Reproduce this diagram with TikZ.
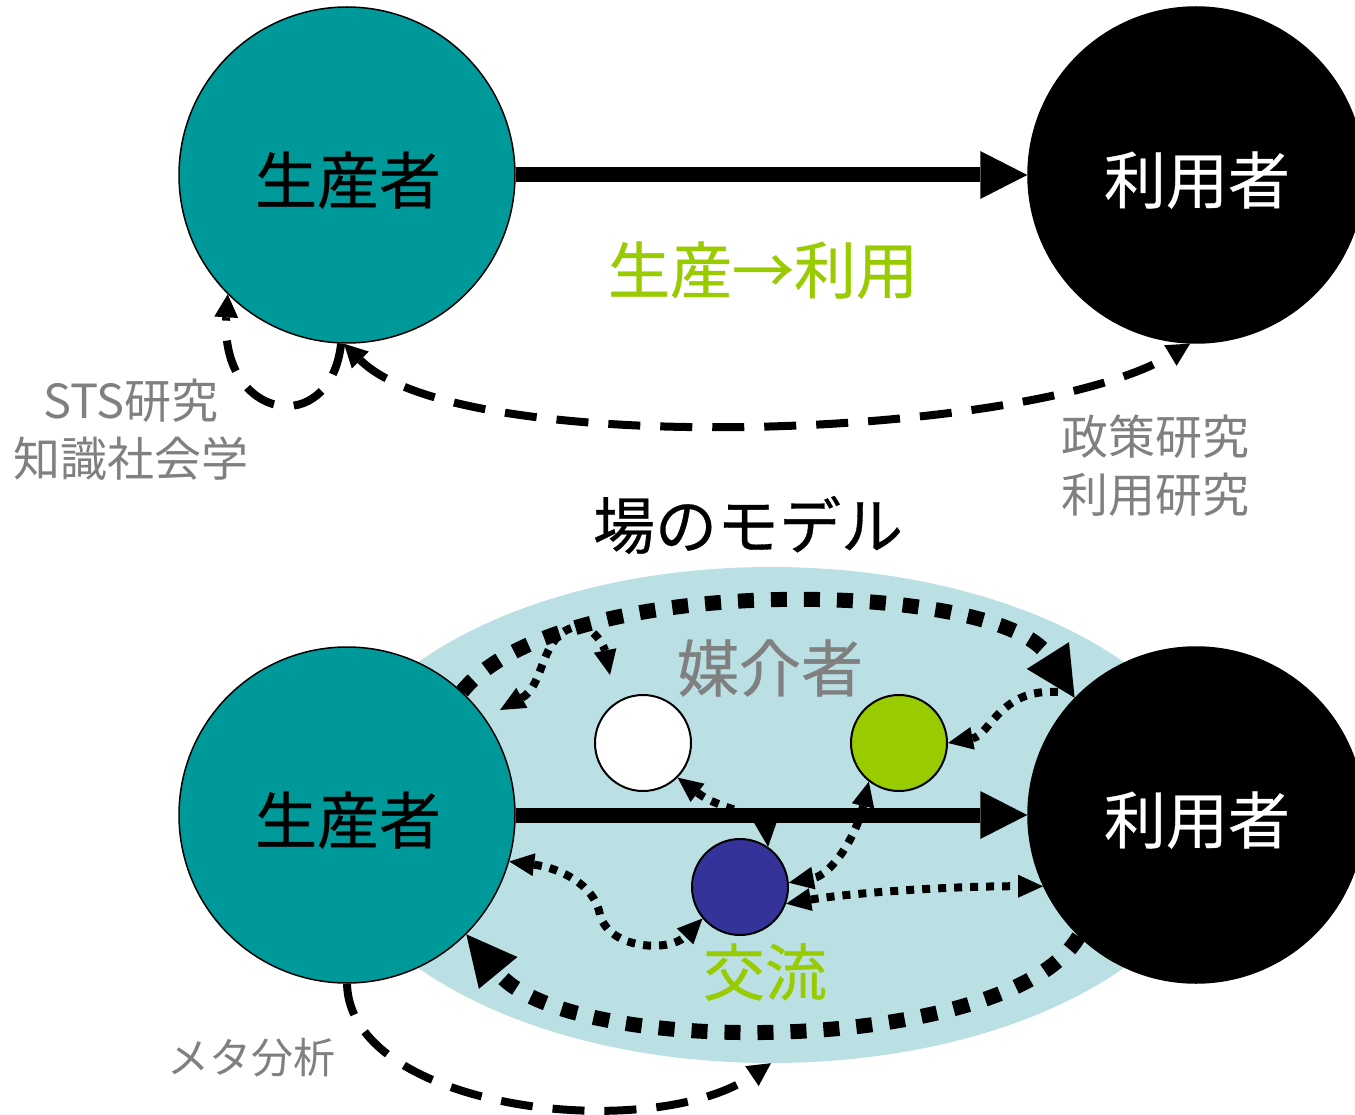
\documentclass[tikz,border=0pt]{standalone}
\usepackage{fontspec}
\newfontfamily\jp{Noto Sans CJK JP}
\newfontfamily\jpb[FakeBold=0.5]{Noto Sans CJK JP}
\usetikzlibrary{arrows.meta,shapes.geometric}
\definecolor{teal0}{HTML}{009999}
\definecolor{field0}{HTML}{BAE0E4}
\definecolor{lime0}{HTML}{99CC00}
\definecolor{navy0}{HTML}{333399}
\definecolor{gray0}{HTML}{808080}
\begin{document}
\begin{tikzpicture}[x=1pt,y=-1pt,
  big/.style={circle,draw=black,line width=1.5pt,minimum size=336pt,inner sep=0pt},
  small/.style={circle,draw=black,line width=2pt,minimum size=96pt,inner sep=0pt},
  biglbl/.style={font=\jpb\fontsize{62pt}{62pt}\selectfont},
  lbl/.style={font=\jp\fontsize{47pt}{58pt}\selectfont,text=gray0,align=center},
  solidarrow/.style={line width=15pt,-{Triangle[length=47pt,width=48pt,line width=0pt]}},
  dashline/.style={line width=8pt,dash pattern=on 32pt off 20pt},
  dtip/.tip={Triangle[length=23pt,width=24pt,line width=0pt]},
  bigdots/.style={line width=15pt,dash pattern=on 16pt off 17pt},
  btip/.tip={Triangle[length=50pt,width=50pt,line width=0pt]},
  smalldots/.style={line width=8pt,dash pattern=on 8pt off 8pt},
  stip/.tip={Triangle[length=25pt,width=23pt,line width=0pt]}]
\clip (0,0) rectangle (1355,1115);
\fill[white] (0,0) rectangle (1355,1115);

% ---------- top: linear model ----------
\node[big,fill=teal0] (Pt) at (347,175) {};
\node[big,fill=black] (Ut) at (1196,175) {};
\node[biglbl] (Ptl) at (348,180) {生産者};
\node[biglbl,text=white] (Utl) at (1197,180) {利用者};
\draw[solidarrow] (Pt.east) -- (Ut.west);
\node[biglbl,text=lime0] (flow) at (763,270) {生産→利用};
\draw[dashline,dtip-dtip] (Pt.-91) .. controls (460,460) and (1030,440) .. (Ut.-92);
\draw[dashline,-dtip] (Pt.-92) .. controls (330,440) and (220,420) .. (Pt.-135);
\node[lbl] (sts) at (131,430) {STS研究\\知識社会学};
\node[lbl] (pol) at (1155,466) {政策研究\\利用研究};

% ---------- bottom: field model ----------
\node[biglbl] (title) at (748,525) {場のモデル};
\node[ellipse,fill=field0,minimum width=896pt,minimum height=496pt,inner sep=0pt] (F) at (771,815) {};
\node[big,fill=teal0] (Pb) at (347,815) {};
\node[big,fill=black] (Ub) at (1196,815) {};
\node[biglbl] (Pbl) at (348,820) {生産者};
\node[biglbl,text=white] (Ubl) at (1197,820) {利用者};
\node[small,fill=white] (W) at (643,743) {};
\node[small,fill=lime0] (G) at (899,743) {};
\node[small,fill=navy0] (N) at (740,887) {};
\node[biglbl,text=gray0] (med) at (770,668) {媒介者};
\node[biglbl,text=lime0] (ex) at (765,972) {交流};
\draw[solidarrow] (Pb.east) -- (Ub.west);

\coordinate (a1) at (500,710);
\coordinate (a2) at (610,675);
\coordinate (u1) at (1058,692);

\draw[bigdots,-btip] (Pb.47) .. controls (560,570) and (1000,580) .. (Ub.136);
\draw[bigdots,-btip] (Ub.-134) .. controls (1010,1055) and (570,1060) .. (Pb.-45);

\draw[smalldots,stip-stip] (a1) .. controls (545,685) and (540,635) .. (575,627)
   .. controls (595,624) and (605,650) .. (a2);
\draw[smalldots,-stip] (u1) .. controls (1000,688) and (990,735) .. (G.0);
\draw[smalldots,stip-stip] (W.-45) .. controls (720,810) and (765,815) .. (N.55);
\draw[smalldots,stip-stip] (G.-128) .. controls (855,840) and (830,875) .. (N.5);
\draw[smalldots,stip-stip] (N.-20) .. controls (850,893) and (950,886) .. (Ub.205);
\draw[smalldots,stip-stip] (Pb.-16) .. controls (560,868) and (595,885) .. (600,915)
   .. controls (610,950) and (670,952) .. (N.-140);

\draw[dashline,-dtip] (Pb.-90) .. controls (350,1110) and (650,1145) .. (F.south);
\node[lbl,font=\jp\fontsize{42pt}{50pt}\selectfont] (meta) at (251,1058) {メタ分析};
\end{tikzpicture}
\end{document}
